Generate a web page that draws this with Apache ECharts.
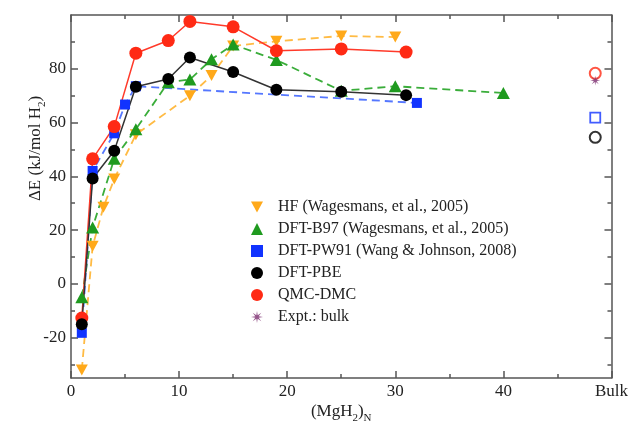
<!DOCTYPE html>
<html>
<head>
<meta charset="utf-8">
<script src="https://cdn.jsdelivr.net/npm/echarts@6/dist/echarts.min.js"></script>
<style>
  html, body { margin: 0; padding: 0; background: #fff; }
  #chart { width: 631px; height: 429px; }
</style>
</head>
<body>
<div id="chart"></div>
<script>
// cluster size N and binding energy (kJ/mol H2)
const hfN = [1, 2, 3, 4, 6, 11, 13, 15, 19, 25, 30]
const hfE = [-32, 14, 28.5, 39, 55.5, 70, 77.5, 88.5, 90.2, 92.2, 91.8]

const b97N = [1, 2, 4, 6, 9, 11, 13, 15, 19, 25, 30, 40]
const b97E = [-5, 21, 46.5, 57.5, 75, 76, 83.5, 89, 83.3, 71.8, 73.5, 71]

const pw91N = [1, 2, 4, 5, 6, 32]
const pw91E = [-18.2, 42, 56, 66.7, 73.5, 67.3]

const pbeN = [1, 2, 4, 6, 9, 11, 15, 19, 25, 31]
const pbeE = [-15, 39.2, 49.5, 73.3, 76.2, 84.2, 78.8, 72.2, 71.5, 70.2]

const dmcN = [1, 2, 4, 6, 9, 11, 15, 19, 25, 31]
const dmcE = [-12.7, 46.5, 58.5, 85.8, 90.5, 97.6, 95.6, 86.7, 87.4, 86.2]

// bulk column, drawn just left of the "Bulk" tick
const bulkX = 48.5
const bulkDmc = 78.3
const bulkExpt = 75.6
const bulkPw91 = 61.8
const bulkPbe = 54.5

const yMajor = [-20, 0, 20, 40, 60, 80]
const yMinor = [-30, -10, 10, 30, 50, 70, 90]

const FONT = 'Liberation Serif'
const AXIS_COLOR = '#555'
const downTri = 'path://M0,0 L10,0 L5,9 Z'

function starPath() {
  const pts = []
  for (let i = 0; i < 16; i++) {
    const a = i * Math.PI / 8
    const r = i % 2 === 0 ? 10 : 3
    pts.push((10 + r * Math.sin(a)).toFixed(2) + ',' + (10 - r * Math.cos(a)).toFixed(2))
  }
  return 'path://M' + pts.join(' L') + ' Z'
}
const star = starPath()

function pairs(xs, ys) {
  return xs.map((x, i) => [x, ys[i]])
}

function yAxisDef(position, values, length, withLabels) {
  return {
    type: 'value',
    min: -35,
    max: 100,
    position,
    axisLine: { show: withLabels !== null, onZero: false, lineStyle: { color: AXIS_COLOR, width: 1.5 } },
    axisTick: { inside: true, length, customValues: values, lineStyle: { color: AXIS_COLOR, width: 1.5 } },
    axisLabel: withLabels
      ? { customValues: values, margin: 5, fontFamily: FONT, fontSize: 17, color: '#222' }
      : { show: false },
    splitLine: { show: false }
  }
}

function xAxisDef(position, withLabels) {
  return {
    type: 'value',
    min: 0,
    max: 50,
    interval: 10,
    position,
    axisLine: { show: true, onZero: false, lineStyle: { color: AXIS_COLOR, width: 1.5 } },
    axisTick: { inside: true, length: 7, lineStyle: { color: AXIS_COLOR, width: 1.5 } },
    minorTick: { show: true, splitNumber: 2, length: 4, lineStyle: { color: AXIS_COLOR, width: 1.5 } },
    axisLabel: withLabels
      ? {
          margin: 5, fontFamily: FONT, fontSize: 17, color: '#222',
          formatter: v => (v === 50 ? 'Bulk' : String(v))
        }
      : { show: false },
    splitLine: { show: false }
  }
}

const chart = echarts.init(document.getElementById('chart'), null, { renderer: 'canvas' })

const subRich = {
  a: { fontFamily: FONT, fontSize: 17, color: '#222', lineHeight: 24 },
  s: { fontFamily: FONT, fontSize: 11, color: '#222', lineHeight: 10, verticalAlign: 'bottom' }
}

const leftAxis = yAxisDef('left', yMajor, 7, true)
leftAxis.name = '{a|ΔE (kJ/mol H}{s|2}{a|)}'
leftAxis.nameLocation = 'middle'
leftAxis.nameGap = 23
leftAxis.nameMoveOverlap = false
leftAxis.nameTextStyle = { padding: [0, 0, 0, 96], rich: subRich }

const bottomAxis = xAxisDef('bottom', true)
bottomAxis.name = '{a|(MgH}{s|2}{a|)}{s|N}'
bottomAxis.nameLocation = 'middle'
bottomAxis.nameGap = 22
bottomAxis.nameMoveOverlap = false
bottomAxis.nameTextStyle = { rich: subRich }

chart.setOption({
  animation: false,
  backgroundColor: '#fff',
  grid: { left: 71, right: 19, top: 15, bottom: 47 },
  legend: {
    orient: 'vertical',
    left: 246,
    top: 194,
    itemWidth: 12,
    itemHeight: 12,
    itemGap: 6,
    textStyle: { fontFamily: FONT, fontSize: 16, lineHeight: 16, color: '#222', padding: [0, 0, 0, 10] },
    data: [
      { name: 'HF (Wagesmans, et al., 2005)', icon: downTri },
      { name: 'DFT-B97 (Wagesmans, et al., 2005)', icon: 'triangle' },
      { name: 'DFT-PW91 (Wang & Johnson, 2008)', icon: 'rect' },
      { name: 'DFT-PBE', icon: 'circle' },
      { name: 'QMC-DMC', icon: 'circle' },
      { name: 'Expt.: bulk', icon: star }
    ]
  },
  xAxis: [bottomAxis, xAxisDef('top', false)],
  yAxis: [
    leftAxis,
    yAxisDef('left', yMinor, 4, null),
    yAxisDef('right', yMajor, 7, false),
    yAxisDef('right', yMinor, 4, null)
  ],
  series: [
    {
      name: 'HF (Wagesmans, et al., 2005)',
      type: 'line',
      symbol: downTri,
      symbolSize: [12, 11],
      itemStyle: { color: '#ffa91a' },
      lineStyle: { color: '#ffbb44', width: 1.8, type: [8, 5] },
      data: pairs(hfN, hfE)
    },
    {
      name: 'DFT-B97 (Wagesmans, et al., 2005)',
      type: 'line',
      symbol: 'triangle',
      symbolSize: [13, 12],
      itemStyle: { color: '#1f9a1f' },
      lineStyle: { color: '#3aad3a', width: 1.8, type: [8, 5] },
      data: pairs(b97N, b97E)
    },
    {
      name: 'DFT-PW91 (Wang & Johnson, 2008)',
      type: 'line',
      symbol: 'rect',
      symbolSize: 10,
      itemStyle: { color: '#1133ff' },
      lineStyle: { color: '#5577ff', width: 1.8, type: [8, 5] },
      data: pairs(pw91N, pw91E)
    },
    {
      name: 'QMC-DMC',
      type: 'line',
      symbol: 'circle',
      symbolSize: 13,
      itemStyle: { color: '#ff2a14' },
      lineStyle: { color: '#ff3a2a', width: 1.5 },
      data: pairs(dmcN, dmcE)
    },
    {
      name: 'DFT-PBE',
      type: 'line',
      symbol: 'circle',
      symbolSize: 12,
      itemStyle: { color: '#000' },
      lineStyle: { color: '#333', width: 1.5 },
      data: pairs(pbeN, pbeE)
    },
    // open markers for the bulk values
    {
      name: 'bulk DMC',
      type: 'scatter',
      symbol: 'circle',
      symbolSize: 11,
      itemStyle: { color: '#fff', borderColor: '#ff2a14', borderWidth: 2 },
      data: [[bulkX, bulkDmc]]
    },
    {
      name: 'bulk PW91',
      type: 'scatter',
      symbol: 'rect',
      symbolSize: 10,
      itemStyle: { color: '#fff', borderColor: '#1133ff', borderWidth: 1.8 },
      data: [[bulkX, bulkPw91]]
    },
    {
      name: 'bulk PBE',
      type: 'scatter',
      symbol: 'circle',
      symbolSize: 11,
      itemStyle: { color: '#fff', borderColor: '#000', borderWidth: 2 },
      data: [[bulkX, bulkPbe]]
    },
    {
      name: 'Expt.: bulk',
      type: 'scatter',
      symbol: star,
      symbolSize: 10,
      itemStyle: { color: '#7a2a6e' },
      data: [[bulkX, bulkExpt]]
    }
  ]
})
</script>
</body>
</html>
